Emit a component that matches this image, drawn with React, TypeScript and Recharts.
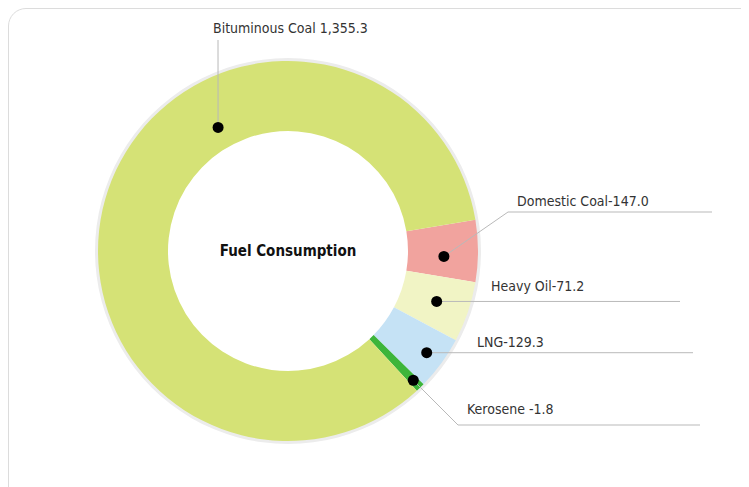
import { Cell, Pie, PieChart } from "recharts";

// slice order runs clockwise from the 3 o'clock side
const fuels = ["Domestic Coal", "Heavy Oil", "LNG", "Kerosene", "Bituminous Coal"];
const labelTexts = [
  "Domestic Coal-147.0",
  "Heavy Oil-71.2",
  "LNG-129.3",
  "Kerosene -1.8",
  "Bituminous Coal 1,355.3",
];
// arc sizes as drawn in the source graphic (degrees, not proportional to the printed values)
const arcShares = [19, 18.5, 16.5, 2.8, 303.2];
const colors = ["#f1a39e", "#f1f4c5", "#c5e2f5", "#3db53a", "#d5e276"];
const centerTitle = "Fuel Consumption";

const data = fuels.map((name, i) => ({ name, value: arcShares[i], text: labelTexts[i] }));

const RAD = Math.PI / 180;
const FONT = "'DejaVu Sans Condensed', 'DejaVu Sans', sans-serif";

// callout layout per slice: dot radius, optional dot angle, elbow & end of leader, text anchor
const callouts = [
  { r: 156, angle: -2, elbow: [220, -39], endX: 424, text: [229, -45] },
  { r: 157, elbow: null, endX: 392, text: [203, 40] },
  { r: 172, elbow: null, endX: 405, text: [189, 96] },
  { r: 180, elbow: [170, 174], endX: 412, text: [179, 163] },
  { r: 142, angle: 119.5, elbow: [-70, -211], endX: null, text: [-75, -218] },
];

const renderCallout = (props: any) => {
  const { cx, cy, midAngle, index } = props;
  const c = callouts[index];
  const a = (c.angle ?? midAngle) * RAD;
  const x = cx + c.r * Math.cos(a);
  const y = cy - c.r * Math.sin(a);
  const pts: number[][] = [[x, y]];
  if (c.elbow) pts.push([cx + c.elbow[0], cy + c.elbow[1]]);
  if (c.endX !== null) pts.push([cx + c.endX, pts[pts.length - 1][1]]);
  return (
    <g key={`callout-${index}`}>
      {index === 0 && (
        <text
          x={cx}
          y={cy}
          textAnchor="middle"
          dominantBaseline="central"
          fill="#111"
          fontSize={15}
          fontWeight="bold"
          fontFamily={FONT}
        >
          {centerTitle}
        </text>
      )}
      <polyline
        points={pts.map((p) => p.join(",")).join(" ")}
        fill="none"
        stroke="#b9b9b9"
        strokeWidth={1}
      />
      <circle cx={x} cy={y} r={5.5} fill="#000" />
      <text
        x={cx + c.text[0]}
        y={cy + c.text[1]}
        fill="#333"
        fontSize={14}
        fontFamily={FONT}
      >
        {data[index].text}
      </text>
    </g>
  );
};

export default function App() {
  return (
    <div style={{ position: "relative", width: 741, height: 479, overflow: "hidden" }}>
      <div
        style={{
          position: "absolute",
          left: 0,
          top: 0,
          width: 820,
          height: 560,
          border: "1.5px solid #dcdcdc",
          borderRadius: 18,
          boxSizing: "border-box",
        }}
      />
      <PieChart
        width={741}
        height={479}
        margin={{ top: 0, right: 0, bottom: 0, left: 0 }}
        style={{ position: "absolute", left: 0, top: 0 }}
      >
        <Pie
          data={[{ name: "halo", value: 1 }]}
          dataKey="value"
          cx={280}
          cy={243}
          innerRadius={186}
          outerRadius={193}
          fill="#ececec"
          stroke="none"
          isAnimationActive={false}
        />
        <Pie
          data={data}
          dataKey="value"
          nameKey="name"
          cx={280}
          cy={243}
          innerRadius={120}
          outerRadius={190}
          startAngle={9.5}
          endAngle={-350.5}
          stroke="none"
          label={renderCallout}
          labelLine={false}
          isAnimationActive={false}
        >
          {data.map((d, i) => (
            <Cell key={d.name} fill={colors[i]} />
          ))}
        </Pie>
      </PieChart>
    </div>
  );
}
